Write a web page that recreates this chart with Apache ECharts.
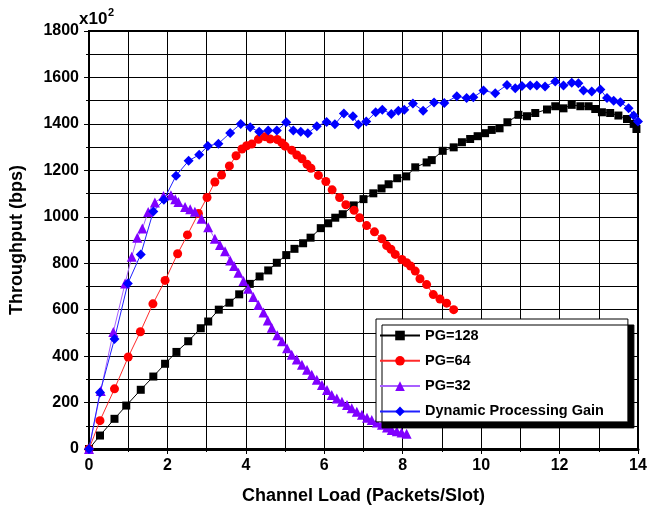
<!DOCTYPE html>
<html>
<head>
<meta charset="utf-8">
<script src="https://cdn.jsdelivr.net/npm/echarts@6/dist/echarts.min.js"></script>
<style>html,body{margin:0;padding:0;background:#fff;}#c{width:647px;height:512px;}</style>
</head>
<body>
<div id="c"></div>
<script>
const seriesNames = ['PG=128', 'PG=64', 'PG=32', 'Dynamic Processing Gain'];
const xTicks = [0, 2, 4, 6, 8, 10, 12, 14];
const yTicks = [0, 200, 400, 600, 800, 1000, 1200, 1400, 1600, 1800];

const pg128 = [[0,0],[0.28,58],[0.65,130],[0.95,187],[1.32,255],[1.64,312],[1.94,367],[2.23,418],[2.53,464],[2.85,520],[3.04,549],[3.31,600],[3.58,630],[3.83,666],[4.1,711],[4.35,743],[4.57,769],[4.79,802],[5.03,835],[5.24,862],[5.46,886],[5.65,910],[5.91,951],[6.1,972],[6.28,996],[6.47,1011],[6.75,1049],[7.0,1076],[7.25,1101],[7.46,1122],[7.64,1140],[7.86,1166],[8.09,1174],[8.32,1213],[8.61,1234],[8.74,1244],[9.02,1284],[9.3,1299],[9.51,1321],[9.72,1335],[9.91,1347],[10.1,1360],[10.27,1374],[10.47,1381],[10.67,1407],[10.95,1439],[11.17,1433],[11.38,1447],[11.68,1462],[11.89,1476],[12.1,1467],[12.31,1482],[12.53,1476],[12.74,1476],[12.91,1464],[13.08,1450],[13.29,1447],[13.5,1436],[13.72,1421],[13.89,1400],[13.96,1378]];

const pg64 = [[0,0],[0.28,122],[0.65,259],[1.0,396],[1.31,505],[1.63,625],[1.94,726],[2.26,841],[2.51,922],[2.79,1014],[3.01,1083],[3.21,1150],[3.38,1180],[3.58,1219],[3.75,1263],[3.9,1292],[4.02,1306],[4.15,1313],[4.32,1334],[4.49,1345],[4.62,1335],[4.8,1333],[4.92,1318],[5.0,1304],[5.17,1287],[5.3,1266],[5.43,1250],[5.56,1226],[5.66,1209],[5.85,1178],[6.04,1152],[6.2,1116],[6.39,1083],[6.55,1052],[6.76,1028],[6.9,996],[7.08,962],[7.28,935],[7.47,905],[7.59,876],[7.7,860],[7.81,838],[7.98,816],[8.1,802],[8.2,788],[8.32,766],[8.44,733],[8.61,708],[8.78,665],[8.95,646],[9.12,628],[9.3,600]];

const pg32 = [[0,0],[0.3,250],[0.62,504],[0.92,713],[1.09,828],[1.23,910],[1.36,949],[1.51,1021],[1.68,1061],[1.9,1090],[2.09,1093],[2.2,1075],[2.28,1064],[2.45,1042],[2.58,1032],[2.7,1022],[2.87,992],[3.04,955],[3.21,905],[3.34,878],[3.47,852],[3.6,812],[3.7,788],[3.81,759],[3.94,723],[4.06,690],[4.19,655],[4.32,620],[4.45,588],[4.56,553],[4.66,522],[4.8,490],[4.92,464],[5.05,434],[5.17,406],[5.3,385],[5.43,363],[5.56,341],[5.68,320],[5.81,298],[5.94,276],[6.07,254],[6.19,233],[6.32,218],[6.45,204],[6.58,190],[6.7,176],[6.83,160],[6.96,147],[7.09,135],[7.21,125],[7.34,114],[7.47,104],[7.6,93],[7.72,82],[7.85,76],[7.97,71],[8.1,66]];

const dpg = [[0,0],[0.28,243],[0.65,474],[0.99,713],[1.32,838],[1.64,1023],[1.91,1073],[2.22,1177],[2.54,1241],[2.81,1267],[3.03,1305],[3.3,1315],[3.6,1361],[3.87,1400],[4.11,1385],[4.34,1366],[4.57,1371],[4.79,1371],[5.03,1407],[5.21,1371],[5.4,1366],[5.58,1360],[5.81,1390],[6.06,1408],[6.27,1398],[6.5,1445],[6.73,1433],[6.87,1397],[7.07,1410],[7.31,1450],[7.48,1461],[7.71,1443],[7.89,1457],[8.04,1461],[8.26,1488],[8.52,1457],[8.8,1492],[9.06,1490],[9.38,1519],[9.63,1511],[9.8,1515],[10.06,1544],[10.36,1532],[10.66,1568],[10.87,1554],[11.04,1563],[11.25,1565],[11.42,1565],[11.63,1561],[11.89,1582],[12.1,1565],[12.31,1577],[12.48,1575],[12.61,1544],[12.82,1539],[13.04,1548],[13.21,1511],[13.38,1500],[13.55,1493],[13.76,1467],[13.89,1436],[14.0,1410]];

const FONT = '"Liberation Sans", Arial, sans-serif';
const chart = echarts.init(document.getElementById('c'), null, {renderer: 'canvas'});

function mkSeries(name, data, symbol, size, color, lineColor) {
  return {
    name: name, type: 'line', data: data, symbol: symbol, symbolSize: size,
    showAllSymbol: true, clip: false, animation: false,
    itemStyle: {color: color},
    lineStyle: {color: lineColor, width: 1}
  };
}

chart.setOption({
  animation: false,
  backgroundColor: '#fff',
  title: [
    {text: 'x10', left: 79, top: 11, padding: 0, itemGap: 0,
     textStyle: {fontFamily: FONT, fontWeight: 'bold', fontSize: 17, color: '#000'}},
    {text: '2', left: 108, top: 7, padding: 0,
     textStyle: {fontFamily: FONT, fontWeight: 'bold', fontSize: 11, color: '#000'}}
  ],
  grid: {left: 89, right: 9, top: 31, bottom: 63, containLabel: false, outerBoundsMode: 'none',
         show: true, borderColor: '#000', borderWidth: 2, backgroundColor: 'transparent'},
  xAxis: {
    type: 'value', min: xTicks[0], max: xTicks[xTicks.length - 1], interval: 2,
    name: 'Channel Load (Packets/Slot)', nameLocation: 'middle', nameGap: 38,
    nameTextStyle: {fontFamily: FONT, fontWeight: 'bold', fontSize: 18, color: '#000'},
    axisLine: {show: true, lineStyle: {color: '#000', width: 3}},
    axisTick: {show: true, length: 5, inside: false, lineStyle: {color: '#000', width: 1}},
    minorTick: {show: true, splitNumber: 2, length: 3, lineStyle: {color: '#000', width: 1}},
    splitLine: {show: true, lineStyle: {color: '#000', width: 1}},
    minorSplitLine: {show: true, lineStyle: {color: '#000', width: 1}},
    axisLabel: {fontFamily: FONT, fontWeight: 'bold', fontSize: 16, color: '#000', margin: 9,
                formatter: function (v) { return String(v); }}
  },
  yAxis: {
    type: 'value', min: yTicks[0], max: yTicks[yTicks.length - 1], interval: 200,
    name: 'Throughput (bps)', nameLocation: 'middle', nameGap: 63, nameRotate: 90,
    nameTextStyle: {fontFamily: FONT, fontWeight: 'bold', fontSize: 18, color: '#000'},
    axisLine: {show: true, lineStyle: {color: '#000', width: 2}},
    axisTick: {show: true, length: 5, inside: false, lineStyle: {color: '#000', width: 1}},
    minorTick: {show: true, splitNumber: 2, length: 3, lineStyle: {color: '#000', width: 1}},
    splitLine: {show: true, lineStyle: {color: '#000', width: 1}},
    minorSplitLine: {show: true, lineStyle: {color: '#000', width: 1}},
    axisLabel: {fontFamily: FONT, fontWeight: 'bold', fontSize: 16, color: '#000', margin: 10,
                formatter: function (v) { return String(v); }}
  },
  legend: {
    show: true, orient: 'vertical', left: 376, top: 319,
    data: seriesNames,
    itemWidth: 40, itemHeight: 12, itemGap: 10.3,
    padding: [9, 24, 3, 3],
    backgroundColor: '#fff', borderColor: '#000', borderWidth: 1,
    shadowColor: '#000', shadowBlur: 0, shadowOffsetX: 6, shadowOffsetY: 6,
    textStyle: {fontFamily: FONT, fontWeight: 'bold', fontSize: 14.5, color: '#000'},
    selectedMode: false
  },
  series: [
    mkSeries(seriesNames[0], pg128, 'rect', 8, '#000000', '#000000'),
    mkSeries(seriesNames[1], pg64, 'circle', 9, '#ff0000', '#ff2a2a'),
    mkSeries(seriesNames[2], pg32, 'triangle', 10, '#8000ff', '#a860ff'),
    mkSeries(seriesNames[3], dpg, 'diamond', 10, '#0000ff', '#2020ff')
  ]
});
</script>
</body>
</html>
